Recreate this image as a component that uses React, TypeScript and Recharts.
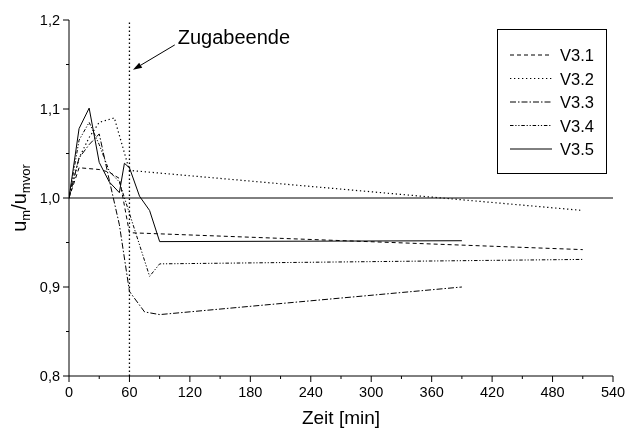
import React from 'react';
import { LineChart, Line, XAxis, YAxis, ReferenceLine, Legend } from 'recharts';

// Zeitpunkte [min] und Verhältnis u_m / u_mvor je Versuch
const v31Time = [0, 10, 30, 40, 50, 60, 510];
const v31Ratio = [1.0, 1.034, 1.032, 1.029, 1.022, 0.961, 0.942];

const v32Time = [0, 10, 20, 30, 45, 60, 510];
const v32Ratio = [1.0, 1.045, 1.068, 1.085, 1.09, 1.031, 0.986];

const v33Time = [0, 10, 20, 30, 40, 50, 60, 75, 90, 390];
const v33Ratio = [1.0, 1.045, 1.06, 1.072, 1.02, 0.97, 0.895, 0.872, 0.869, 0.9];

const v34Time = [0, 10, 20, 30, 40, 50, 80, 90, 510];
const v34Ratio = [1.0, 1.065, 1.085, 1.06, 1.03, 1.018, 0.912, 0.926, 0.931];

const v35Time = [0, 10, 20, 30, 40, 50, 55, 60, 70, 80, 90, 390];
const v35Ratio = [1.0, 1.078, 1.101, 1.04, 1.018, 1.006, 1.039, 1.034, 1.002, 0.986, 0.951, 0.952];

const xTicks = [0, 30, 60, 90, 120, 150, 180, 210, 240, 270, 300, 330, 360, 390, 420, 450, 480, 510, 540];
const yTicks = [0.8, 0.85, 0.9, 0.95, 1.0, 1.05, 1.1, 1.15, 1.2];

const FONT = '"Liberation Sans", Arial, sans-serif';

const toRows = (t: number[], v: number[]) => t.map((time, i) => ({ t: time, v: v[i] }));

const series = [
  { name: 'V3.1', data: toRows(v31Time, v31Ratio), dash: '4 3', width: 1 },
  { name: 'V3.2', data: toRows(v32Time, v32Ratio), dash: '1.3 2.7', width: 1.2 },
  { name: 'V3.3', data: toRows(v33Time, v33Ratio), dash: '6 2 1.5 2', width: 1 },
  { name: 'V3.4', data: toRows(v34Time, v34Ratio), dash: '3.5 1.8 1.2 1.8 1.2 1.8', width: 1 },
  { name: 'V3.5', data: toRows(v35Time, v35Ratio), dash: undefined, width: 1 },
];

const XTick = (props: any) => {
  const { x, y, payload } = props;
  const major = payload.value % 60 === 0;
  return (
    <g>
      <line x1={x} x2={x} y1={y} y2={y + (major ? 6 : 3)} stroke="#000" />
      {major && (
        <text x={x} y={y + 21} textAnchor="middle" fontSize={14.5} fontFamily={FONT} fill="#000">
          {payload.value}
        </text>
      )}
    </g>
  );
};

const YTick = (props: any) => {
  const { x, y, payload, index } = props;
  const major = index % 2 === 0;
  return (
    <g>
      <line x1={x} x2={x - (major ? 6 : 3)} y1={y} y2={y} stroke="#000" />
      {major && (
        <text x={x - 9} y={y + 5} textAnchor="end" fontSize={14.5} fontFamily={FONT} fill="#000">
          {payload.value.toFixed(1).replace('.', ',')}
        </text>
      )}
    </g>
  );
};

const YTitle = (props: any) => {
  const { viewBox } = props;
  const cx = 26;
  const cy = viewBox.y + viewBox.height / 2;
  return (
    <text
      x={cx}
      y={cy}
      transform={`rotate(-90, ${cx}, ${cy})`}
      textAnchor="middle"
      fontSize={20}
      fontFamily={FONT}
      fill="#000"
    >
      u<tspan dy={4} fontSize={13}>m</tspan>
      <tspan dy={-4}>/u</tspan>
      <tspan dy={4} fontSize={13}>mvor</tspan>
    </text>
  );
};

const XTitle = (props: any) => {
  const { viewBox } = props;
  return (
    <text
      x={viewBox.x + viewBox.width / 2}
      y={viewBox.y + 48}
      textAnchor="middle"
      fontSize={19}
      fontFamily={FONT}
      fill="#000"
    >
      Zeit [min]
    </text>
  );
};

const Arrow = (props: any) => {
  const { x1, y1, x2, y2 } = props;
  const ang = Math.atan2(y2 - y1, x2 - x1);
  const len = 9;
  const w = 3;
  const bx = x2 - len * Math.cos(ang);
  const by = y2 - len * Math.sin(ang);
  const px = -Math.sin(ang) * w;
  const py = Math.cos(ang) * w;
  return (
    <g>
      <line x1={x1} y1={y1} x2={bx} y2={by} stroke="#000" strokeWidth={1} />
      <polygon points={`${x2},${y2} ${bx + px},${by + py} ${bx - px},${by - py}`} fill="#000" />
      <text x={x1 + 3} y={y1 - 1} fontSize={20} fontFamily={FONT} fill="#000">
        Zugabeende
      </text>
    </g>
  );
};

const LegendBox = () => (
  <div style={{ width: 108, height: 143, border: '1px solid #000', background: '#fff', boxSizing: 'content-box' }}>
    <svg width={108} height={143}>
      {series.map((s, i) => {
        const y = 25 + i * 23.5;
        return (
          <g key={s.name}>
            <line x1={12} x2={54} y1={y} y2={y} stroke="#000" strokeWidth={s.width} strokeDasharray={s.dash} />
            <text x={62} y={y + 6} fontSize={16.5} fontFamily={FONT} fill="#000">
              {s.name}
            </text>
          </g>
        );
      })}
    </svg>
  </div>
);

export default function App() {
  return (
    <div style={{ position: 'fixed', left: 0, top: 0 }}>
      <LineChart width={627} height={434} margin={{ top: 20, right: 14, left: 0, bottom: 0 }}>
        <XAxis
          dataKey="t"
          type="number"
          domain={[0, 540]}
          ticks={xTicks}
          interval={0}
          height={58}
          axisLine={{ stroke: '#000' }}
          tickLine={false}
          tickSize={0}
          tickMargin={0}
          tick={<XTick />}
          label={{ content: <XTitle /> }}
          allowDataOverflow
        />
        <YAxis
          type="number"
          domain={[0.8, 1.2]}
          ticks={yTicks}
          interval={0}
          width={69}
          axisLine={{ stroke: '#000' }}
          tickLine={false}
          tickSize={0}
          tickMargin={0}
          tick={<YTick />}
          label={{ content: <YTitle /> }}
          allowDataOverflow
        />
        <ReferenceLine y={1.0} stroke="#000" strokeWidth={1} />
        <ReferenceLine x={60} stroke="#000" strokeWidth={1.3} strokeDasharray="1.5 2.5" />
        <ReferenceLine
          segment={[
            { x: 105, y: 1.172 },
            { x: 63.5, y: 1.144 },
          ]}
          shape={<Arrow />}
        />
        {series.map((s) => (
          <Line
            key={s.name}
            data={s.data}
            dataKey="v"
            name={s.name}
            type="linear"
            stroke="#000"
            strokeWidth={s.width}
            strokeDasharray={s.dash}
            dot={false}
            activeDot={false}
            isAnimationActive={false}
          />
        ))}
        <Legend
          layout="horizontal"
          align="center"
          verticalAlign="middle"
          content={<LegendBox />}
          wrapperStyle={{ position: 'absolute', left: 497, top: 29, width: 110, height: 145 }}
        />
      </LineChart>
    </div>
  );
}
